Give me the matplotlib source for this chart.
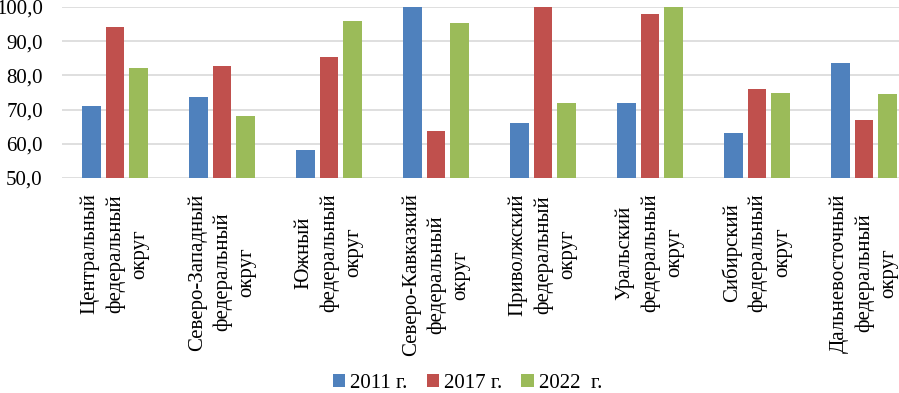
import numpy as np
import matplotlib
matplotlib.use('Agg')
import matplotlib.pyplot as plt

plt.rcParams['font.family'] = ['Liberation Serif', 'DejaVu Serif']

districts = ['Центральный\nфедеральный\nокруг',
             'Северо-Западный\nфедеральный\nокруг',
             'Южный\nфедеральный\nокруг',
             'Северо-Кавказкий\nфедеральный\nокруг',
             'Приволжский\nфедеральный\nокруг',
             'Уральский\nфедеральный\nокруг',
             'Сибирский\nфедеральный\nокруг',
             'Дальневосточный\nфедеральный\nокруг']
v2011 = [71.0, 73.8, 58.1, 100.0, 66.1, 71.8, 63.3, 83.7]
v2017 = [94.2, 82.8, 85.3, 63.6, 100.0, 97.9, 76.1, 66.9]
v2022 = [82.3, 68.1, 95.8, 95.2, 71.8, 100.0, 74.9, 74.6]
series_labels = ['2011 г.', '2017 г.', '2022  г.']
colors = ['#4F81BD', '#C0504D', '#9BBB59']

fig = plt.figure(figsize=(8.99, 3.93), dpi=100)
ax = fig.add_axes([61.5 / 899, 215 / 393, 856 / 899, 171 / 393])

x = np.arange(len(districts))
w = 0.17
step = 0.22
for i, (vals, lab, c) in enumerate(zip([v2011, v2017, v2022], series_labels, colors)):
    ax.bar(x + (i - 1) * step, vals, width=w, color=c, label=lab, zorder=2)

ax.set_ylim(50, 100)
ax.set_xlim(-0.5, len(districts) - 0.5)
ax.set_yticks(np.arange(50, 101, 10))
ax.set_yticklabels([f'{v:.1f}'.replace('.', ',') for v in np.arange(50, 101, 10)],
                   fontsize=15)
ax.set_xticks(x)
ax.set_xticklabels(districts, rotation=90, multialignment='center',
                   linespacing=1.4, fontsize=15)
ax.tick_params(axis='both', length=0)
ax.tick_params(axis='y', pad=13.5)
ax.tick_params(axis='x', pad=11)
ax.grid(axis='y', color='#D9D9D9', linewidth=1.2, zorder=0)
for s in ax.spines.values():
    s.set_visible(False)

fig.legend(loc='center', bbox_to_anchor=(0.52, 10 / 393), ncol=3, frameon=False,
           fontsize=15, handlelength=0.6, handleheight=0.6, handletextpad=0.25,
           columnspacing=0.9, borderpad=0.1)

fig.savefig('out.png', dpi=100)
